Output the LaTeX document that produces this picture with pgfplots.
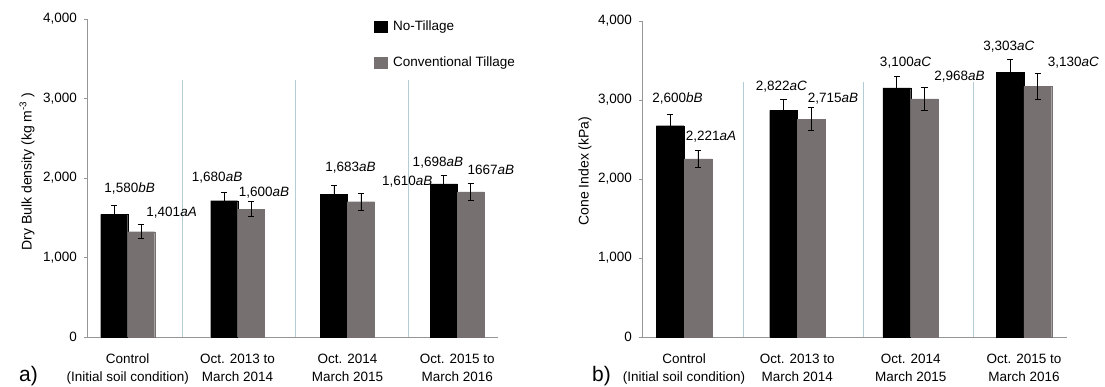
\documentclass[border=0pt]{standalone}
\usepackage{fontspec}
\setmainfont{Liberation Sans}
\usepackage{pgfplots}
\pgfplotsset{compat=1.18}
\definecolor{ctgray}{RGB}{119,112,112}
\definecolor{sepc}{RGB}{180,205,212}
\definecolor{axgray}{RGB}{150,150,150}
\newcommand{\labfont}{\fontsize{13.5}{16}\selectfont}
\pgfplotsset{
 mybase/.style={
  scale only axis,
  ymin=0, ymax=4000,
  ytick={0,1000,2000,3000,4000},
  yticklabels={0,{1,000},{2,000},{3,000},{4,000}},
  xtick={1,2,3,4},
  xticklabels={{Control\\(Initial soil condition)},{Oct. 2013 to\\March 2014},{Oct. 2014\\March 2015},{Oct. 2015 to\\March 2016}},
  axis x line=bottom, axis y line=left,
  axis line style={-, axgray, line width=0.9pt},
  tick align=outside,
  major tick length=3pt,
  ytick style={axgray, line width=0.6pt},
  xtick style={draw=none},
  tick label style={font=\fontsize{13.5}{18}\selectfont},
  xticklabel style={align=center, anchor=north, inner sep=0pt, yshift=-14pt},
  yticklabel style={inner sep=0pt, xshift=-7pt},
  clip=false,
  ybar, bar shift=0pt, bar width=0.245,
  ylabel style={font=\fontsize{14}{16}\selectfont, anchor=center},
 },
 myerr/.style={
  error bars/.cd,
  y dir=both, y explicit,
  error mark=-,
  error mark options={rotate=90, mark size=3.2pt, line width=0.8pt, black},
  error bar style={line width=0.8pt, black},
 }
}
\begin{document}
\begin{tikzpicture}
\useasboundingbox (0,0) rectangle (1105pt,387pt);
% ---------------- a) ----------------
\begin{axis}[mybase,
  at={(87pt,50pt)}, anchor=south west,
  width=411pt, height=318pt,
  xmin=0.63, xmax=4.37,
  ylabel={Dry Bulk density (kg m\textsuperscript{-3} )},
  ylabel style={at={(axis description cs:-0.146,0.52)}},
  legend style={at={(0.698,0.995)}, anchor=north west, draw=none, fill=none,
    font=\fontsize{13.5}{16}\selectfont, row sep=25pt, inner sep=0pt,
    nodes={inner sep=0pt}},
  legend cell align=left,
  legend image code/.code={\fill[#1] (0pt,-5.5pt) rectangle (13pt,5.5pt); \path (19pt,0pt);},
]
\addplot[sepc, line width=0.7pt, forget plot, sharp plot, no markers] coordinates {(1.495,0) (1.495,3233)};
\addplot[sepc, line width=0.7pt, forget plot, sharp plot, no markers] coordinates {(2.53,0) (2.53,3233)};
\addplot[sepc, line width=0.7pt, forget plot, sharp plot, no markers] coordinates {(3.55,0) (3.55,3233)};
\addplot[fill=black, draw=black, line width=0.1pt, myerr] coordinates {
 (0.8775,1543) +- (0,117)
 (1.8775,1715) +- (0,100)
 (2.8775,1795) +- (0,117)
 (3.8775,1925) +- (0,113)
};
\addlegendentry{No-Tillage}
\addplot[fill=ctgray, draw=ctgray, line width=0.1pt, myerr] coordinates {
 (1.1225,1325) +- (0,90)
 (2.1225,1606) +- (0,94)
 (3.1225,1702) +- (0,109)
 (4.1225,1824) +- (0,110)
};
\addlegendentry{Conventional Tillage}
\node[font=\labfont] at (axis cs:1.018,1862) {1,580\textit{bB}};
\node[font=\labfont] at (axis cs:1.400,1564) {1,401\textit{aA}};
\node[font=\labfont] at (axis cs:1.814,2000) {1,680\textit{aB}};
\node[font=\labfont] at (axis cs:2.241,1811) {1,600\textit{aB}};
\node[font=\labfont] at (axis cs:3.027,2126) {1,683\textit{aB}};
\node[font=\labfont] at (axis cs:3.545,1950) {1,610\textit{aB}};
\node[font=\labfont] at (axis cs:3.823,2189) {1,698\textit{aB}};
\node[font=\labfont] at (axis cs:4.305,2101) {1667\textit{aB}};
\end{axis}
% ---------------- b) ----------------
\begin{axis}[mybase,
  at={(642pt,50pt)}, anchor=south west,
  width=425pt, height=316pt,
  xmin=0.629, xmax=4.38,
  ylabel={Cone Index (kPa)},
  ylabel style={at={(axis description cs:-0.134,0.525)}},
]
\addplot[sepc, line width=0.7pt, forget plot, sharp plot, no markers] coordinates {(1.52,0) (1.52,3232)};
\addplot[sepc, line width=0.7pt, forget plot, sharp plot, no markers] coordinates {(2.58,0) (2.58,3232)};
\addplot[sepc, line width=0.7pt, forget plot, sharp plot, no markers] coordinates {(3.55,0) (3.55,3232)};
\addplot[fill=black, draw=black, line width=0.1pt, myerr] coordinates {
 (0.8775,2674) +- (0,140)
 (1.8775,2868) +- (0,145)
 (2.8775,3152) +- (0,147)
 (3.8775,3350) +- (0,161)
};
\addplot[fill=ctgray, draw=ctgray, line width=0.1pt, myerr] coordinates {
 (1.1225,2256) +- (0,110)
 (2.1225,2759) +- (0,142)
 (3.1225,3013) +- (0,145)
 (4.1225,3172) +- (0,165)
};
\node[font=\labfont] at (axis cs:0.942,3016) {2,600\textit{bB}};
\node[font=\labfont] at (axis cs:1.238,2535) {2,221\textit{aA}};
\node[font=\labfont] at (axis cs:1.860,3169) {2,822\textit{aC}};
\node[font=\labfont] at (axis cs:2.315,3016) {2,715\textit{aB}};
\node[font=\labfont] at (axis cs:2.955,3477) {3,100\textit{aC}};
\node[font=\labfont] at (axis cs:3.431,3299) {2,968\textit{aB}};
\node[font=\labfont] at (axis cs:3.868,3679) {3,303\textit{aC}};
\node[font=\labfont] at (axis cs:4.437,3477) {3,130\textit{aC}};
\end{axis}
\node[anchor=base west, inner sep=0pt, font=\fontsize{21}{21}\selectfont] at (19pt,5pt) {a)};
\node[anchor=base west, inner sep=0pt, font=\fontsize{21}{21}\selectfont] at (592pt,5pt) {b)};
\end{tikzpicture}
\end{document}
